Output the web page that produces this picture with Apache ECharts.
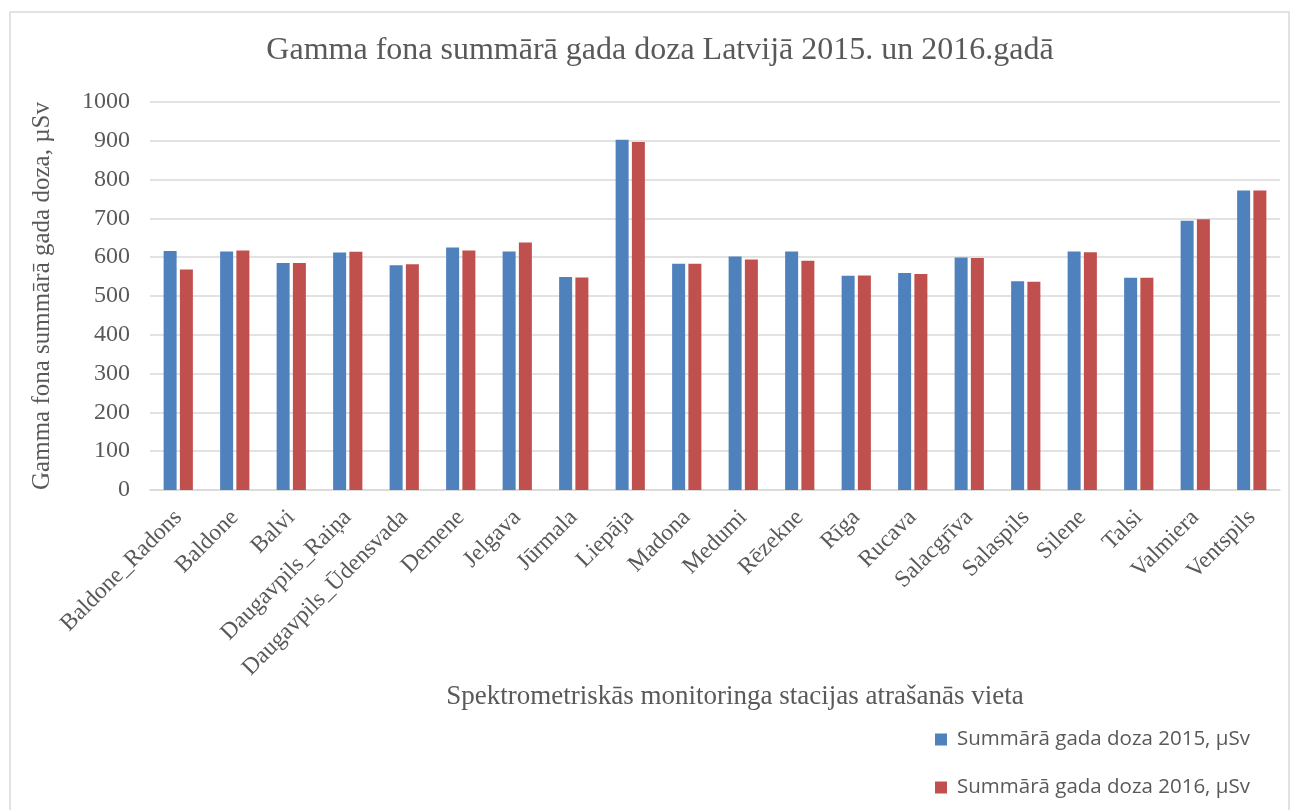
<!DOCTYPE html>
<html><head><meta charset="utf-8">
<script src="https://cdn.jsdelivr.net/npm/echarts@6/dist/echarts.min.js"></script>
<style>html,body{margin:0;padding:0;background:#fff}#c{width:1298px;height:810px}</style>
</head><body><div id="c"></div>
<script>
const categories = ['Baldone_Radons','Baldone','Balvi','Daugavpils_Raiņa','Daugavpils_Ūdensvada','Demene','Jelgava','Jūrmala','Liepāja','Madona','Medumi','Rēzekne','Rīga','Rucava','Salacgrīva','Salaspils','Silene','Talsi','Valmiera','Ventspils'];
const dose2015 = [616,615,585,612,579,625,615,549,903,583,602,615,552,559,599,538,615,547,694,772];
const dose2016 = [568,617,585,614,582,617,638,548,897,583,594,591,553,557,598,537,613,547,698,772];
const yTicks = {min:0, max:1000, interval:100};
const titleText = 'Gamma fona summārā gada doza Latvijā 2015. un 2016.gadā';
const yName = 'Gamma fona summārā gada doza, µSv';
const xName = 'Spektrometriskās monitoringa stacijas atrašanās vieta';
const names = ['Summārā gada doza 2015, µSv','Summārā gada doza 2016, µSv'];

const serif = '"Liberation Serif", "DejaVu Serif", serif';
const txt = '#595959';
const chart = echarts.init(document.getElementById('c'), null, {renderer:'canvas'});
chart.setOption({
  animation:false,
  backgroundColor:'#fff',
  graphic:[{type:'rect', shape:{x:10,y:12,width:1279,height:820}, style:{fill:'none', stroke:'#d9d9d9', lineWidth:1.5}, silent:true}],
  title:{text:titleText, left:660, textAlign:'center', top:35, padding:0,
    textStyle:{fontFamily:serif, fontSize:32, fontWeight:'normal', color:txt}},
  grid:{left:150, right:18, top:102, bottom:320, containLabel:false},
  legend:{orient:'vertical', left:935, top:729, padding:0, itemGap:27, itemWidth:12, itemHeight:12, icon:'rect',
    textStyle:{fontFamily:'"Open Sans", "Liberation Sans", sans-serif', fontSize:20.5, color:txt, padding:[0,0,0,5]}, data:names},
  xAxis:{type:'category', data:categories,
    axisLine:{lineStyle:{color:'#d9d9d9', width:1.5}}, axisTick:{show:false},
    axisLabel:{rotate:45, interval:0, fontFamily:serif, fontSize:23.5, color:txt, margin:24},
    name:xName, nameLocation:'middle', nameGap:184,
    nameTextStyle:{fontFamily:serif, fontSize:27, color:txt, padding:[0,0,0,40]}},
  yAxis:{type:'value', min:yTicks.min, max:yTicks.max, interval:yTicks.interval,
    axisLine:{show:false}, axisTick:{show:false},
    splitLine:{lineStyle:{color:'#d9d9d9', width:1.5}},
    axisLabel:{fontFamily:serif, fontSize:24, color:txt, margin:20, formatter:function(v){return String(v);}},
    name:yName, nameLocation:'middle', nameGap:95, nameRotate:90,
    nameTextStyle:{fontFamily:serif, fontSize:25, color:txt}},
  series:[
    {name:names[0], type:'bar', data:dose2015, barWidth:13, barGap:'25%', itemStyle:{color:'#4f81bd'}},
    {name:names[1], type:'bar', data:dose2016, barWidth:13, barGap:'25%', itemStyle:{color:'#c0504d'}}
  ]
});
</script></body></html>
